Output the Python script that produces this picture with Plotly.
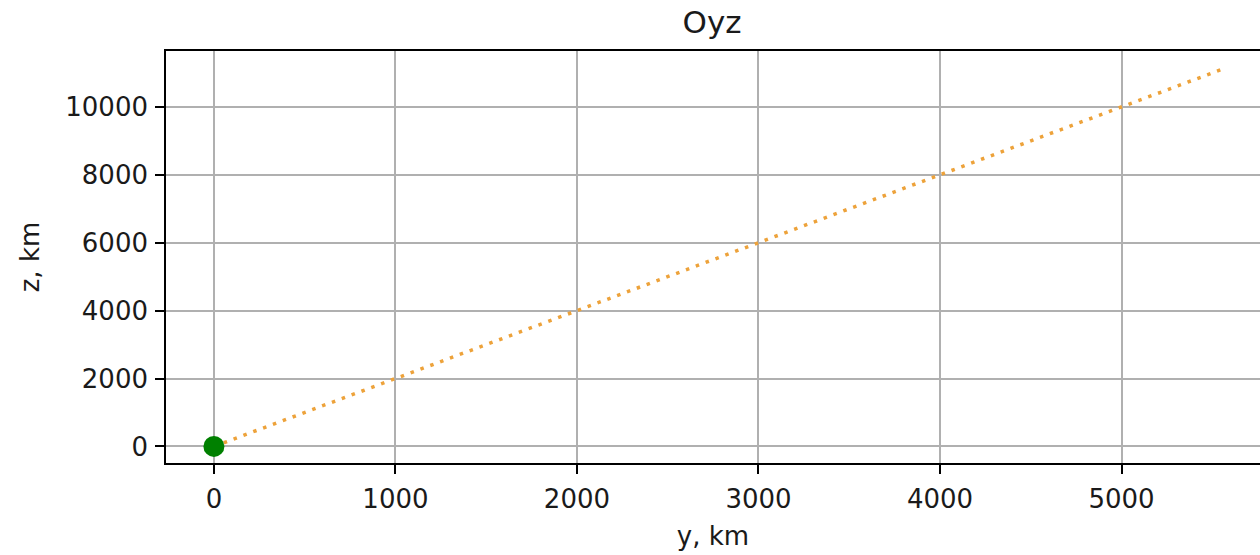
import plotly.graph_objects as go

# data
traj_y = [0, 5560]
traj_z = [0, 11120]
start_y = [0]
start_z = [0]
x_ticks = [0, 1000, 2000, 3000, 4000, 5000]
y_ticks = [0, 2000, 4000, 6000, 8000, 10000]
x_labels = ["0", "1000", "2000", "3000", "4000", "5000"]
y_labels = ["0", "2000", "4000", "6000", "8000", "10000"]

FONT = "DejaVu Sans"
fig = go.Figure()
fig.add_trace(go.Scatter(x=traj_y, y=traj_z, mode="lines",
                         line=dict(color="#EDA23A", width=3.5, dash="3.5px,7px"),
                         showlegend=False))
fig.add_trace(go.Scatter(x=start_y, y=start_z, mode="markers",
                         marker=dict(color="green", size=21),
                         showlegend=False))

axis_common = dict(showline=True, linecolor="black", linewidth=1.6,
                   showgrid=True, gridcolor="#b0b0b0", gridwidth=1.5,
                   zeroline=False, ticks="outside", ticklen=9, tickwidth=1.6,
                   tickcolor="black",
                   tickfont=dict(family=FONT, size=26, color="#1a1a1a"))

fig.update_layout(
    width=1260, height=555,
    margin=dict(l=166, r=0, t=51, b=92),
    plot_bgcolor="white", paper_bgcolor="white",
    title=dict(text="Oyz", x=(166 + 1258) / 2 / 1260, xanchor="center",
               y=1 - 22 / 555, yanchor="middle",
               font=dict(family=FONT, size=31, color="#1a1a1a")),
    xaxis=dict(range=[-264, 5763], tickvals=x_ticks, ticktext=x_labels,
               mirror=True, ticklabelstandoff=3,
               title=dict(text="y, km", standoff=14,
                          font=dict(family=FONT, size=26, color="#1a1a1a")),
               **axis_common),
    yaxis=dict(range=[-488, 11647], tickvals=y_ticks, ticktext=y_labels,
               ticklabelstandoff=2,
               title=dict(text="z, km", standoff=18,
                          font=dict(family=FONT, size=26, color="#1a1a1a")),
               **axis_common),
)
fig.write_html("out.html")
